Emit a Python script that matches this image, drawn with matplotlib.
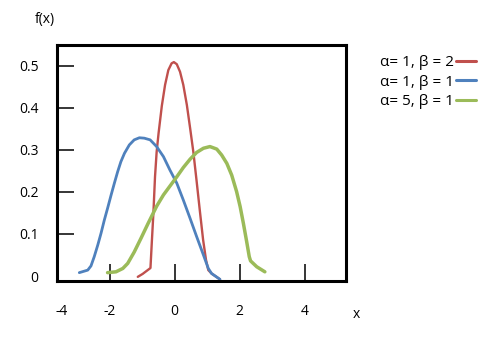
import matplotlib
matplotlib.use("Agg")
import matplotlib.pyplot as plt
from matplotlib import transforms

# ---- data ----
red_x = [-1.13, -0.98, -0.86, -0.74, -0.70, -0.65, -0.60, -0.55, -0.49, -0.39, -0.29,
         -0.19, -0.09, -0.02, 0.07, 0.17, 0.27, 0.38, 0.48, 0.58, 0.68, 0.78, 0.88,
         0.97, 1.04, 1.14, 1.40]
red_y = [-0.002, 0.005, 0.012, 0.019, 0.078, 0.149, 0.236, 0.295, 0.340, 0.405, 0.455,
         0.490, 0.506, 0.509, 0.504, 0.486, 0.455, 0.407, 0.352, 0.295, 0.226, 0.155,
         0.086, 0.038, 0.014, 0.006, -0.008]

blue_x = [-2.93, -2.67, -2.57, -2.47, -2.36, -2.26, -2.16, -2.06, -1.95, -1.85, -1.75,
          -1.65, -1.54, -1.39, -1.24, -1.08, -0.93, -0.75, -0.55, -0.34, -0.14, 0.07,
          0.27, 0.48, 0.68, 0.89, 1.04, 1.14, 1.40]
blue_y = [0.008, 0.014, 0.024, 0.046, 0.074, 0.102, 0.133, 0.161, 0.193, 0.221, 0.248,
          0.272, 0.292, 0.312, 0.324, 0.329, 0.328, 0.324, 0.308, 0.284, 0.252, 0.221,
          0.181, 0.137, 0.094, 0.050, 0.018, 0.006, -0.008]

green_x = [-2.06, -1.80, -1.59, -1.44, -1.24, -1.03, -0.82, -0.55, -0.34, -0.14, 0.07,
           0.27, 0.48, 0.68, 0.89, 1.09, 1.30, 1.45, 1.61, 1.76, 1.91, 2.02, 2.12,
           2.22, 2.30, 2.34, 2.53, 2.78]
green_y = [0.008, 0.010, 0.018, 0.030, 0.057, 0.090, 0.124, 0.166, 0.193, 0.214, 0.236,
           0.258, 0.278, 0.294, 0.304, 0.308, 0.302, 0.288, 0.268, 0.240, 0.201, 0.165,
           0.125, 0.082, 0.046, 0.036, 0.022, 0.010]

series_labels = ["α= 1, β = 2", "α= 1, β = 1", "α= 5, β = 1"]
series_colors = ["#C0504D", "#4F81BD", "#9BBB59"]

y_ticks = [0, 0.1, 0.2, 0.3, 0.4, 0.5]
y_tick_labels = ["0", "0.1", "0.2", "0.3", "0.4", "0.5"]
x_ticks = [-2, 0, 2, 4]
x_tick_labels = ["-2", "0", "2", "4"]
x_extra_label = "-4"

plt.rcParams['font.family'] = ['Open Sans', 'DejaVu Sans']

fig = plt.figure(figsize=(4.8, 3.37), dpi=100)
W, H = 480, 337
left, right, top, bottom = 56.7, 346.3, 45.3, 281.3
ax = fig.add_axes([left / W, 1 - bottom / H, (right - left) / W, (bottom - top) / H])

ax.set_xlim(-3.625, 5.286)
ax.set_ylim(-0.0126, 0.549)

lws = [1.7, 2.0, 2.5]
for xs, ys, lab, col, lw in zip([red_x, blue_x, green_x], [red_y, blue_y, green_y],
                                series_labels, series_colors, lws):
    ax.plot(xs, ys, color=col, lw=lw, label=lab, solid_joinstyle='round',
            solid_capstyle='round', clip_on=False)

for sp in ax.spines.values():
    sp.set_linewidth(2.2)
    sp.set_color('black')

ax.set_yticks(y_ticks)
ax.set_yticklabels(y_tick_labels)
ax.set_xticks(x_ticks)
ax.set_xticklabels(x_tick_labels)
ax.tick_params(axis='both', direction='in', length=12.5, width=1.1, labelsize=10,
               color='black')
ax.tick_params(axis='y', pad=13)
ax.tick_params(axis='x', pad=16)
ax.yaxis.get_major_ticks()[0].tick1line.set_visible(False)

# extra "-4" label, lying outside the x range, aligned with the other tick labels
fig.canvas.draw()
lab_y = ax.get_xticklabels()[1].get_window_extent().y1
ax.text(-3.46, lab_y, x_extra_label, fontsize=10, ha='center', va='top',
        transform=transforms.blended_transform_factory(ax.transData,
                                                       transforms.IdentityTransform()))

fig.text(45 / W, 1 - 19 / H, "f(x)", fontsize=10, ha='center', va='center')
fig.text(356.7 / W, 1 - 315 / H, "x", fontsize=10, ha='center', va='center')

leg = ax.legend(loc='upper left', bbox_to_anchor=(374 / W, 1 - 49 / H),
                bbox_transform=fig.transFigure, frameon=False, markerfirst=False,
                fontsize=11, handlelength=1.25, handletextpad=0.15,
                labelspacing=0.3, borderaxespad=0)
for h in leg.get_lines():
    h.set_linewidth(2.2)

fig.savefig("out.png", dpi=100)
